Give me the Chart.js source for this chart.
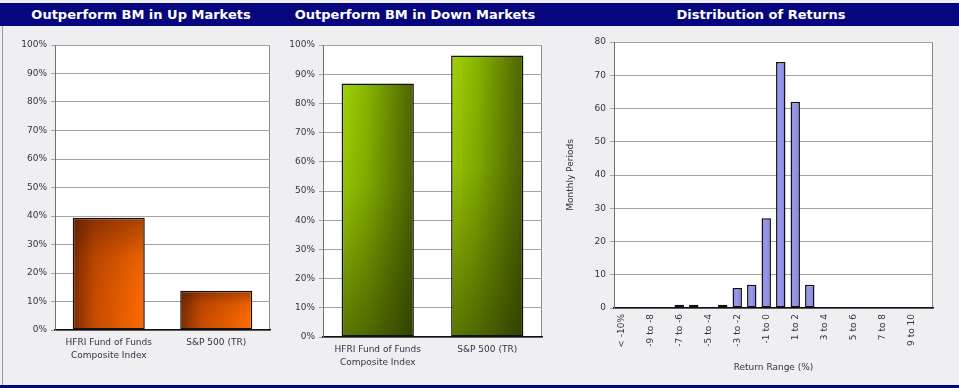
<!DOCTYPE html>
<html><head><meta charset="utf-8">
<script src="https://cdn.jsdelivr.net/npm/chart.js@4/dist/chart.umd.min.js"></script>
<style>
html,body{margin:0;padding:0;}
body{width:959px;height:388px;background:#efeff1;position:relative;overflow:hidden;font-family:"DejaVu Sans",sans-serif;}
#bar{position:absolute;left:0;top:3px;width:959px;height:23px;background:#06067f;}
.t{position:absolute;top:3px;height:23px;line-height:23px;color:#fff;font-weight:bold;font-size:13px;text-align:center;white-space:nowrap;}
canvas{position:absolute;}
#lb{position:absolute;left:2px;top:26px;width:1px;height:362px;background:#9a9a9a;}
#bb{position:absolute;left:0;top:385px;width:959px;height:3px;background:#06067f;}
</style></head>
<body>
<div id="bar"></div>
<div class="t" style="left:0;width:282px">Outperform BM in Up Markets</div>
<div class="t" style="left:282px;width:266px">Outperform BM in Down Markets</div>
<div class="t" style="left:560px;width:402px">Distribution of Returns</div>
<div id="lb"></div>
<div id="bb"></div>
<canvas id="c1" width="278" height="357" style="left:0;top:28px"></canvas>
<canvas id="c2" width="280" height="357" style="left:278px;top:28px"></canvas>
<canvas id="c3" width="401" height="357" style="left:558px;top:28px"></canvas>
<script>
// ---- data ----
const benchCategories = [["HFRI Fund of Funds", "Composite Index"], "S&P 500 (TR)"];
const upMarketValues = [39.4, 13.8];
const downMarketValues = [86.8, 96.4];
const returnRanges = ["< -10%", "-10 to -9", "-9 to -8", "-8 to -7", "-7 to -6", "-6 to -5", "-5 to -4", "-4 to -3",
  "-3 to -2", "-2 to -1", "-1 to 0", "0 to 1", "1 to 2", "2 to 3", "3 to 4", "4 to 5", "5 to 6", "6 to 7",
  "7 to 8", "8 to 9", "9 to 10", "> 10%"];
const monthlyPeriods = [0, 0, 0, 0, 1, 1, 0, 1, 6, 7, 27, 74, 62, 7, 0, 0, 0, 0, 0, 0, 0, 0];

// ---- helpers ----
const tickFont = {family: "DejaVu Sans", size: 9};
const tickColor = '#333344';

// bar fill: horizontal gradient with a vertical shading overlay, anchored to each bar
function shadedFill(hStops, vStops, barPct, fallback) {
  return function (ctx) {
    const chart = ctx.chart;
    const xs = chart.scales.x, ys = chart.scales.y;
    if (!chart.chartArea || !xs || !ys || !isFinite(xs.width) || xs.width <= 0) return fallback;
    const n = chart.data.labels.length;
    const cw = xs.width / n * barPct;
    const cx = xs.getPixelForValue(ctx.dataIndex);
    const top = ys.getPixelForValue(ctx.raw);
    const bot = ys.getPixelForValue(0);
    if (!isFinite(cx) || !isFinite(top)) return fallback;
    const w = Math.max(1, Math.round(cw)), h = Math.max(1, Math.round(bot - top));
    const off = document.createElement('canvas');
    off.width = w; off.height = h;
    const o = off.getContext('2d');
    const gh = o.createLinearGradient(0, 0, w, 0);
    hStops.forEach(s => gh.addColorStop(s[0], s[1]));
    o.fillStyle = gh; o.fillRect(0, 0, w, h);
    const gv = o.createLinearGradient(0, 0, 0, h);
    vStops.forEach(s => gv.addColorStop(s[0], s[1]));
    o.fillStyle = gv; o.fillRect(0, 0, w, h);
    const p = chart.ctx.createPattern(off, 'no-repeat');
    p.setTransform(new DOMMatrix().translate(cx - cw / 2, top));
    return p;
  };
}

const framePlugin = {
  id: 'frame',
  beforeDraw(chart) {
    const {ctx, chartArea: a} = chart;
    ctx.save();
    ctx.fillStyle = '#ffffff';
    ctx.fillRect(a.left, a.top, a.right - a.left, a.bottom - a.top);
    ctx.strokeStyle = '#8a8a8a';
    ctx.lineWidth = 1;
    ctx.beginPath();
    ctx.moveTo(a.left, a.top + 0.5);
    ctx.lineTo(a.right - 0.5, a.top + 0.5);
    ctx.lineTo(a.right - 0.5, a.bottom);
    ctx.stroke();
    ctx.restore();
  }
};

function pctChart(id, values, fill, yWidth, xHeight, padding, barPct) {
  return new Chart(document.getElementById(id), {
    type: 'bar',
    data: {
      labels: benchCategories,
      datasets: [{
        data: values,
        backgroundColor: fill,
        borderColor: '#111',
        borderWidth: 1.5,
        borderSkipped: false,
        categoryPercentage: 1,
        barPercentage: barPct
      }]
    },
    options: {
      responsive: false, animation: false, devicePixelRatio: 1,
      layout: {padding: padding},
      plugins: {legend: {display: false}, tooltip: {enabled: false}},
      scales: {
        x: {
          grid: {display: false, drawTicks: false},
          border: {color: '#111', width: 1.5},
          ticks: {font: Object.assign({lineHeight: 1.35}, tickFont), color: tickColor, padding: 7, maxRotation: 0, autoSkip: false},
          afterFit(s) { s.height = xHeight; }
        },
        y: {
          min: 0, max: 100,
          grid: {color: '#a4a4a4', tickLength: 4, drawTicks: true},
          border: {color: '#707070', width: 1},
          ticks: {stepSize: 10, font: tickFont, color: tickColor, padding: 4, callback: v => v + '%'},
          afterFit(s) { s.width = yWidth; }
        }
      }
    },
    plugins: [framePlugin]
  });
}

pctChart('c1', upMarketValues,
  shadedFill([[0, '#7a2a00'], [0.3, '#c44a00'], [1, '#ff6c00']],
             [[0, 'rgba(70,20,0,0.45)'], [0.35, 'rgba(70,20,0,0.1)'], [1, 'rgba(255,120,0,0)']], 0.67, '#d45000'),
  55, 50, {left: 0, top: 17, right: 8, bottom: 5}, 0.67);

pctChart('c2', downMarketValues,
  shadedFill([[0, '#a2d200'], [0.35, '#88b400'], [1, '#4c6400']],
             [[0, 'rgba(20,30,0,0)'], [0.4, 'rgba(20,30,0,0.08)'], [1, 'rgba(20,30,0,0.5)']], 0.66, '#7aa000'),
  45, 44, {left: 0, top: 17, right: 16, bottom: 4}, 0.66);

new Chart(document.getElementById('c3'), {
  type: 'bar',
  data: {
    labels: returnRanges,
    datasets: [{
      data: monthlyPeriods,
      backgroundColor: shadedFill([[0, '#8a8ae4'], [0.5, '#9898ec'], [1, '#8080dc']],
                                  [[0, 'rgba(255,255,255,0)'], [1, 'rgba(255,255,255,0)']], 0.65, '#9090e8'),
      borderColor: '#111',
      borderWidth: c => (c.raw ? 1.5 : 0),
      borderSkipped: false,
      categoryPercentage: 1,
      barPercentage: 0.65
    }]
  },
  options: {
    responsive: false, animation: false, devicePixelRatio: 1,
    layout: {padding: {left: 3, top: 14, right: 26, bottom: 8}},
    plugins: {legend: {display: false}, tooltip: {enabled: false}},
    scales: {
      x: {
        grid: {display: false, drawTicks: false},
        border: {color: '#111', width: 1.5},
        ticks: {font: tickFont, color: tickColor, padding: 6, minRotation: 90, maxRotation: 90, autoSkip: false,
          callback: (v, i) => (i % 2 === 0 ? returnRanges[i] : '')},
        title: {display: true, text: 'Return Range (%)', font: tickFont, color: tickColor, padding: {top: 4, bottom: 4}},
        afterFit(s) { s.height = 69; }
      },
      y: {
        min: 0, max: 80,
        grid: {color: '#a4a4a4', tickLength: 4, drawTicks: true},
        border: {color: '#707070', width: 1},
        ticks: {stepSize: 10, font: tickFont, color: tickColor, padding: 4},
        title: {display: true, text: 'Monthly Periods', font: tickFont, color: tickColor, padding: {top: 4, bottom: 4}},
        afterFit(s) { s.width = 53; }
      }
    }
  },
  plugins: [framePlugin]
});
</script>
</body></html>
